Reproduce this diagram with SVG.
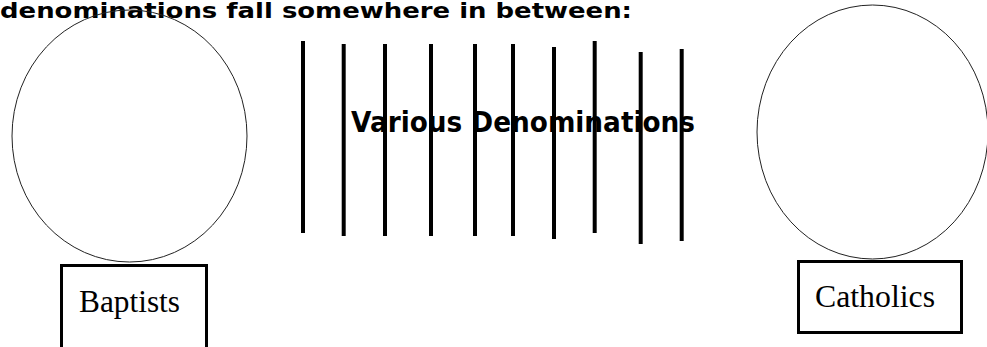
<svg xmlns="http://www.w3.org/2000/svg" width="987" height="347" viewBox="0 0 987 347">
<style>
.title{font-family:"DejaVu Sans",sans-serif;font-weight:bold;fill:#000}
.lbl{font-family:"Liberation Serif",serif;font-size:31px;fill:#000}
.ell{fill:none;stroke:#222;stroke-width:1}
.box{fill:#fff;stroke:#000;stroke-width:3}
.bar{stroke:#000;stroke-width:4}
</style>
<rect width="987" height="347" fill="#fff"/>
<text class="title" x="0" y="18" font-size="21.5" textLength="632" lengthAdjust="spacingAndGlyphs">denominations fall somewhere in between:</text>
<g id="baptists-circle"><ellipse class="ell" cx="129.5" cy="136" rx="117.5" ry="126"/></g>
<g id="catholics-circle"><ellipse class="ell" cx="872.5" cy="132" rx="115.5" ry="127"/></g>
<g id="baptists"><rect class="box" x="61.5" y="265.5" width="145" height="90"/><text class="lbl" x="79" y="312" textLength="101" lengthAdjust="spacingAndGlyphs">Baptists</text></g>
<g id="catholics"><rect class="box" x="798.5" y="261.5" width="163" height="71"/><text class="lbl" x="815" y="307" textLength="120" lengthAdjust="spacingAndGlyphs">Catholics</text></g>
<g id="various"><text class="title" x="351" y="131.5" font-size="28" textLength="344" lengthAdjust="spacingAndGlyphs">Various Denominations</text></g>
<g id="connectors">
<line class="bar" x1="303" y1="41" x2="303" y2="233"/>
<line class="bar" x1="343.7" y1="44" x2="343.7" y2="236"/>
<line class="bar" x1="385" y1="44" x2="385" y2="236"/>
<line class="bar" x1="431" y1="44" x2="431" y2="236"/>
<line class="bar" x1="475" y1="44" x2="475" y2="236"/>
<line class="bar" x1="513" y1="44" x2="513" y2="236"/>
<line class="bar" x1="554" y1="47" x2="554" y2="239"/>
<line class="bar" x1="594.7" y1="41" x2="594.7" y2="233"/>
<line class="bar" x1="640.7" y1="52" x2="640.7" y2="244"/>
<line class="bar" x1="681.7" y1="49" x2="681.7" y2="241"/>
</g>
</svg>
